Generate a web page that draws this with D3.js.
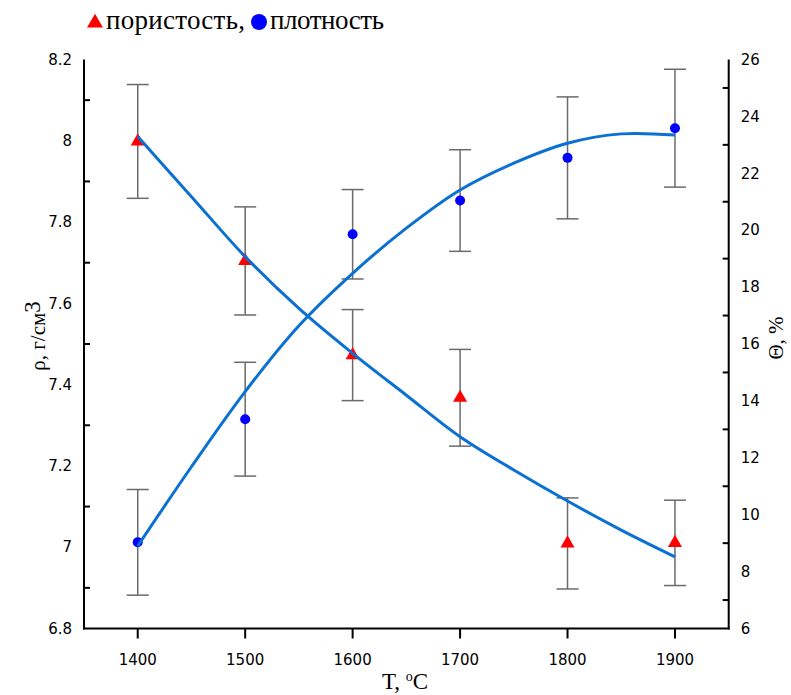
<!DOCTYPE html>
<html><head><meta charset="utf-8">
<script src="https://cdn.jsdelivr.net/npm/d3@7"></script>
<style>body{margin:0;background:#fff}svg{display:block}</style>
</head><body><div id="chart"></div>
<script>
const temps = [1400, 1500, 1600, 1700, 1800, 1900];
const density = [7.012, 7.315, 7.770, 7.853, 7.958, 8.031];
const densityErr = [0.13, 0.14, 0.11, 0.125, 0.15, 0.145];
const porosity = [23.12, 18.92, 15.61, 14.11, 8.99, 9.01];
const porosityErr = [2.0, 1.9, 1.6, 1.7, 1.6, 1.5];
const fitTemps = [1400, 1450, 1500, 1550, 1600, 1650, 1700, 1750, 1800, 1850, 1900];
const densityFit = [7.003, 7.198, 7.383, 7.545, 7.674, 7.785, 7.879, 7.945, 7.994, 8.017, 8.014];
const porosityFit = [23.29, 21.18, 19.07, 17.25, 15.67, 14.2, 12.74, 11.57, 10.48, 9.46, 8.52];
const xTicks = [1400, 1500, 1600, 1700, 1800, 1900];
const leftLabels = [6.8, 7.0, 7.2, 7.4, 7.6, 7.8, 8.0, 8.2];
const leftMinor = [6.9, 7.1, 7.3, 7.5, 7.7, 7.9, 8.1];
const rightLabels = [6, 8, 10, 12, 14, 16, 18, 20, 22, 24, 26];
const rightMinor = [7, 9, 11, 13, 15, 17, 19, 21, 23, 25];

const W = 791, H = 695;
const L = 84, R = 728.7, T = 59.5, B = 628.5;
const svg = d3.select("#chart").append("svg").attr("width", W).attr("height", H);

const x = d3.scaleLinear().domain([1350, 1950]).range([L, R]);
const yL = d3.scaleLinear().domain([6.8, 8.2]).range([B, T]);
const yR = d3.scaleLinear().domain([6, 26]).range([B, T]);

const sans = "'DejaVu Sans', Verdana, sans-serif";
const serif = "'Liberation Serif', 'Times New Roman', serif";
const curveColor = "#0a70d2";

// Axes lines
const ax = svg.append("g").attr("stroke", "#000").attr("stroke-width", 2);
ax.append("line").attr("x1", L).attr("x2", L).attr("y1", T).attr("y2", B + 1);
ax.append("line").attr("x1", R).attr("x2", R).attr("y1", T).attr("y2", B + 1);
ax.append("line").attr("x1", L - 1).attr("x2", R + 1).attr("y1", B).attr("y2", B);

// x ticks
ax.selectAll(".xt").data(xTicks).join("line")
  .attr("x1", d => x(d)).attr("x2", d => x(d)).attr("y1", B).attr("y2", B + 10);
svg.selectAll(".xl").data(xTicks).join("text")
  .attr("x", d => x(d)).attr("y", B + 36).attr("text-anchor", "middle")
  .attr("font-family", sans).attr("font-size", 15).text(d => d);

// left axis
ax.selectAll(".lt").data(leftMinor).join("line")
  .attr("x1", L).attr("x2", L + 6).attr("y1", d => yL(d)).attr("y2", d => yL(d));
svg.selectAll(".ll").data(leftLabels).join("text")
  .attr("x", L - 12).attr("y", d => yL(d)).attr("dy", "0.35em").attr("text-anchor", "end")
  .attr("font-family", sans).attr("font-size", 15).text(d => d3.format("~g")(d));

// right axis
ax.selectAll(".rt").data(rightMinor).join("line")
  .attr("x1", R).attr("x2", R - 6).attr("y1", d => yR(d)).attr("y2", d => yR(d));
svg.selectAll(".rl").data(rightLabels).join("text")
  .attr("x", R + 12).attr("y", d => yR(d)).attr("dy", "0.35em").attr("text-anchor", "start")
  .attr("font-family", sans).attr("font-size", 15).text(d => d);

// titles
const lt = svg.append("text").attr("transform", "translate(45,336) rotate(-90)")
  .attr("text-anchor", "middle").attr("font-family", serif).attr("font-size", 21);
lt.append("tspan").text("ρ, г/см");
lt.append("tspan").attr("dy", -5).attr("font-size", 23).text("3");

svg.append("text").attr("transform", "translate(783,338) rotate(-90)")
  .attr("text-anchor", "middle").attr("font-family", serif).attr("font-size", 21).text("Θ, %");

const xt = svg.append("text").attr("x", 405).attr("y", 689).attr("text-anchor", "middle")
  .attr("font-family", serif).attr("font-size", 23);
xt.append("tspan").text("T, ");
xt.append("tspan").attr("font-size", 14).attr("dy", -8).text("o");
xt.append("tspan").attr("dy", 8).text("C");

// error bars
function errorBars(vals, errs, y) {
  const g = svg.append("g").attr("stroke", "#6a6a6a").attr("stroke-width", 1.5);
  temps.forEach((t, i) => {
    const cx = x(t), y1 = y(vals[i] + errs[i]), y2 = y(vals[i] - errs[i]);
    g.append("line").attr("x1", cx).attr("x2", cx).attr("y1", y1).attr("y2", y2);
    g.append("line").attr("x1", cx - 11).attr("x2", cx + 11).attr("y1", y1).attr("y2", y1);
    g.append("line").attr("x1", cx - 11).attr("x2", cx + 11).attr("y1", y2).attr("y2", y2);
  });
}
errorBars(porosity, porosityErr, yR);
errorBars(density, densityErr, yL);

// markers
const tri = d3.symbol().type(d3.symbolTriangle).size(85);
svg.selectAll(".tri").data(temps).join("path")
  .attr("d", tri).attr("fill", "#ff0000")
  .attr("transform", (d, i) => `translate(${x(d)},${yR(porosity[i])})`);
svg.selectAll(".dot").data(temps).join("circle")
  .attr("cx", d => x(d)).attr("cy", (d, i) => yL(density[i])).attr("r", 5).attr("fill", "#0000ff");

// fit curves
const lineL = d3.line().x(d => x(d[0])).y(d => yL(d[1])).curve(d3.curveCatmullRom);
const lineR = d3.line().x(d => x(d[0])).y(d => yR(d[1])).curve(d3.curveCatmullRom);
svg.append("path").attr("d", lineR(fitTemps.map((t, i) => [t, porosityFit[i]])))
  .attr("fill", "none").attr("stroke", curveColor).attr("stroke-width", 3);
svg.append("path").attr("d", lineL(fitTemps.map((t, i) => [t, densityFit[i]])))
  .attr("fill", "none").attr("stroke", curveColor).attr("stroke-width", 3);

// legend
svg.append("path").attr("d", d3.symbol().type(d3.symbolTriangle).size(110)())
  .attr("fill", "#ff0000").attr("transform", "translate(95,23)");
svg.append("text").attr("x", 106).attr("y", 29).attr("font-family", serif).attr("font-size", 27)
  .attr("textLength", 139).text("пористость,");
svg.append("circle").attr("cx", 259).attr("cy", 22).attr("r", 8).attr("fill", "#0000ff");
svg.append("text").attr("x", 270).attr("y", 29).attr("font-family", serif).attr("font-size", 27)
  .attr("textLength", 114).text("плотность");
</script></body></html>
